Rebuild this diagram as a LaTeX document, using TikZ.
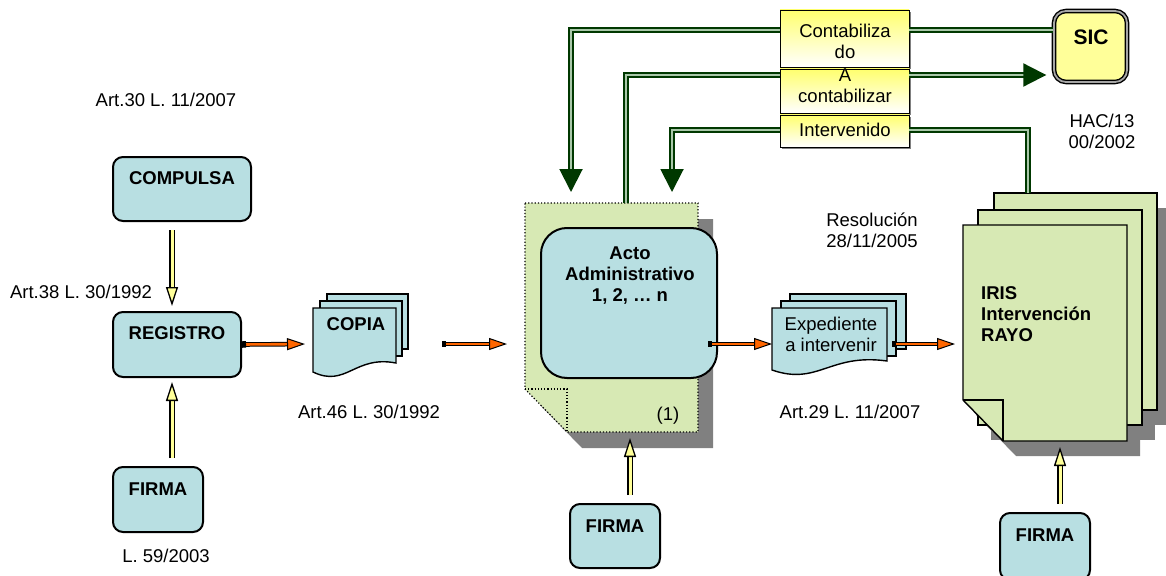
\documentclass[tikz,border=0pt]{standalone}
\usepackage{fontspec}
\setmainfont{Liberation Sans}
\usetikzlibrary{arrows.meta}
\definecolor{boxblue}{RGB}{184,223,226}
\definecolor{pagegreen}{RGB}{215,233,180}
\definecolor{shadowgrey}{RGB}{128,128,128}
\definecolor{yfill}{RGB}{255,255,153}
\definecolor{tagtop}{RGB}{255,255,110}
\definecolor{oarr}{RGB}{255,102,0}
\definecolor{dgreen}{RGB}{0,56,0}
\definecolor{lgreen}{RGB}{170,200,170}
\newcommand{\docwave}[5]{%
  \draw[docpg=#1] (#2,#3) -- (#4,#3) -- (#4,#5-9) .. controls (#2+0.5*#4-0.5*#2,#5-17) and (#2+0.4*#4-0.4*#2,#5+16) .. (#2,#5) -- cycle;}
\begin{document}
\begin{tikzpicture}[x=1pt,y=-1pt,
  every node/.style={font=\fontsize{18.5}{21}\selectfont, inner sep=0pt, align=center},
  bold/.style={font=\fontsize{18.5}{21}\selectfont\bfseries},
  bluebox/.style={draw=black, line width=2pt, fill=boxblue, rounded corners=10pt},
  docpg/.style={draw=black, line width=1.4pt, fill=#1},
  yarrow/.style={draw=black, line width=1.3pt, double=yfill, double distance=3pt, -{Triangle[length=19pt,width=12pt,fill=yfill]}},
  oarrow/.style={draw=black, line width=1pt, double=oarr, double distance=2.6pt, {Square[length=4pt,width=6.5pt,black]}-{Triangle[length=18pt,width=12pt,fill=oarr]}},
  gline/.style={draw=dgreen, line width=2pt, double=lgreen, double distance=1.4pt},
  garrow/.style={gline, -{Triangle[length=23pt,width=23pt,fill=dgreen]}},
  tagbox/.style={draw=black, line width=0.8pt, top color=tagtop, bottom color=white, minimum width=129pt}
]
\useasboundingbox (0,0) rectangle (1166,575);

% ---------- left column ----------
\node[bluebox, minimum width=138pt, minimum height=64pt] (compulsa) at (182,189) {};
\node[bluebox, minimum width=128pt, minimum height=65pt] (registro) at (177,344.5) {};
\node[bluebox, minimum width=90pt, minimum height=65pt] (firma1) at (158,499.5) {};
\node[bold] (compulsaT) at (182,178) {COMPULSA};
\node[bold] (registroT) at (177,333) {REGISTRO};
\node[bold] (firma1T) at (158,489) {FIRMA};
\node (art30) at (166,100) {Art.30 L. 11/2007};
\node (art38) at (81,292) {Art.38 L. 30/1992};
\node (l59) at (166,556) {L. 59/2003};

% ---------- COPIA stack ----------
\draw[docpg=boxblue] (327,294) rectangle (408,349);
\draw[docpg=boxblue] (320,301) rectangle (402,356);
\docwave{boxblue}{313}{308}{396}{372}
\node[bold] (copiaT) at (356,324) {COPIA};
\node (art46) at (369,412) {Art.46 L. 30/1992};
\coordinate (copiaW) at (313,344);
\coordinate (o2s) at (442,344);
\coordinate (o2e) at (507,344);

% ---------- Acto page ----------
\fill[shadowgrey] (540,219) -- (713,219) -- (713,448) -- (582,448) -- (540,405) -- cycle;
\draw[fill=pagegreen, dotted, line width=1.2pt] (525,203) -- (698,203) -- (698,432) -- (567,432) -- (525,389) -- cycle;
\draw[dotted, line width=1.2pt] (525,389) -- (567,389) -- (567,432);
\node[bluebox, rounded corners=26pt, minimum width=176pt, minimum height=150pt] (actobox) at (629,303) {};
\node[bold] (actoT) at (630,276) {Acto\\Administrativo\\1, 2, \dots\ n};
\node (paren1) at (668,416) {(1)};
\coordinate (actoS) at (630,432);
\coordinate (actoTop) at (626,203);
\coordinate (actoN1) at (571,192);
\coordinate (actoN2) at (672,192);
\coordinate (o3s) at (708,344);

\node[bluebox, minimum width=90pt, minimum height=64pt] (firma2) at (615,536) {};
\node[bold] (firma2T) at (615,526) {FIRMA};

% ---------- Expediente stack ----------
\draw[docpg=boxblue] (790,294) rectangle (906,349);
\draw[docpg=boxblue] (781,301) rectangle (896,356);
\docwave{boxblue}{772}{308}{887}{370}
\node (expT) at (831,334) {Expediente\\a intervenir};
\coordinate (expW) at (772,344);
\coordinate (o4s) at (892,344);
\node (resol) at (872,230) {Resolución\\28/11/2005};
\node (art29) at (850,412) {Art.29 L. 11/2007};

% ---------- IRIS stack ----------
\fill[shadowgrey] (1007,208) rectangle (1170,425);
\fill[shadowgrey] (991,225) rectangle (1155,440);
\fill[shadowgrey] (976,240) -- (1140,240) -- (1140,456) -- (1016,456) -- (976,415) -- cycle;
\draw[docpg=pagegreen] (994,193) rectangle (1157,410);
\draw[docpg=pagegreen] (978,210) rectangle (1142,425);
\draw[docpg=pagegreen] (963,225) -- (1127,225) -- (1127,441) -- (1003,441) -- (963,400) -- cycle;
\draw[line width=1.4pt] (963,400) -- (1003,400) -- (1003,441);
\node[bold, align=left, anchor=west] (irisT) at (981,314) {IRIS\\Intervención\\RAYO};
\coordinate (irisW) at (963,344);
\coordinate (irisS) at (1060,441);
\coordinate (irisTop) at (1028,193);
\node (hac) at (1102,131) {HAC/13\\00/2002};

\node[bluebox, minimum width=90pt, minimum height=67pt] (firma3) at (1045,546.5) {};
\node[bold] (firma3T) at (1045,535) {FIRMA};

% ---------- tags and SIC ----------
\fill[shadowgrey] (782,117) rectangle (911,149);
\fill[shadowgrey] (782,71) rectangle (911,115);
\fill[shadowgrey] (782,12) rectangle (911,69);
\node[tagbox, minimum height=32pt] (itv) at (844.5,131) {};
\node[tagbox, minimum height=44pt] (acb) at (844.5,91) {};
\node (acbT) at (845,86) {A\\contabilizar};
\node[tagbox, minimum height=57pt] (ctb) at (844.5,38.5) {};
\node (ctbT) at (845,41) {Contabiliza\\do};
\node (itvT) at (845,130) {Intervenido};

\node[draw=black, line width=1.4pt, double=gray!70, double distance=1.8pt, fill=yfill, rounded corners=12pt, minimum width=73pt, minimum height=71pt] (sic) at (1090.5,46.5) {};
\node[bold, font=\fontsize{21}{24}\selectfont\bfseries] (sicT) at (1091,37) {SIC};

% ---------- connectors ----------
\draw[yarrow, shorten <=8pt, shorten >=5pt] ([xshift=-10pt]compulsa.south) -- ([xshift=-5pt]registro.north);
\draw[yarrow, shorten <=8pt, shorten >=4pt] ([xshift=14pt]firma1.north) -- ([xshift=-5pt]registro.south);
\draw[yarrow, shorten <=8pt, shorten >=6pt] ([xshift=15pt]firma2.north) -- (actoS);
\draw[yarrow, shorten <=8pt, shorten >=6pt] ([xshift=15pt]firma3.north) -- (irisS);

\draw[oarrow, shorten >=8pt] (registro.east) -- (copiaW);
\draw[oarrow] (o2s) -- (o2e);
\draw[oarrow] (o3s) -- (expW);
\draw[oarrow, shorten >=8pt] (o4s) -- (irisW);

\draw[garrow] ([yshift=8.5pt]ctb.west) -| (actoN1);
\draw[gline] ([yshift=16pt]acb.west) -| (actoTop);
\draw[garrow] ([yshift=1pt]itv.west) -| (actoN2);
\draw[gline] ([yshift=8.5pt]ctb.east) -- ([yshift=16.5pt]sic.west);
\draw[garrow, shorten >=7pt] ([yshift=16pt]acb.east) -- ([yshift=-28.5pt]sic.west);
\draw[gline] ([yshift=1pt]itv.east) -| (irisTop);
\end{tikzpicture}
\end{document}
